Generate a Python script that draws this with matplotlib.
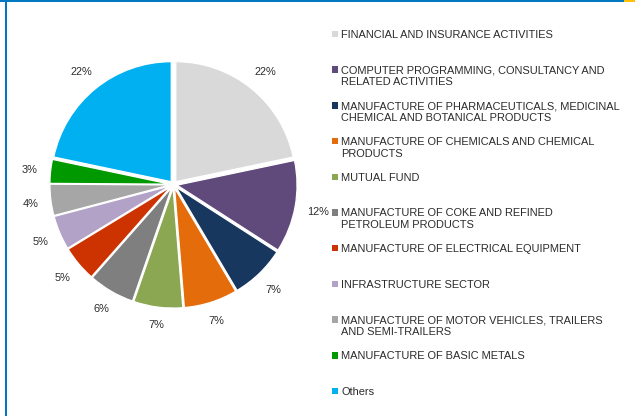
import numpy as np
import matplotlib.pyplot as plt
from matplotlib.patches import Rectangle

plt.rcParams['font.family'] = ['Liberation Sans', 'DejaVu Sans']

# sector shares (%)
sectors = ['FINANCIAL AND INSURANCE ACTIVITIES',
           'COMPUTER PROGRAMMING, CONSULTANCY AND\nRELATED ACTIVITIES',
           'MANUFACTURE OF PHARMACEUTICALS, MEDICINAL\nCHEMICAL AND BOTANICAL PRODUCTS',
           'MANUFACTURE OF CHEMICALS AND CHEMICAL\nPRODUCTS',
           'MUTUAL FUND',
           'MANUFACTURE OF COKE AND REFINED\nPETROLEUM PRODUCTS',
           'MANUFACTURE OF ELECTRICAL EQUIPMENT',
           'INFRASTRUCTURE SECTOR',
           'MANUFACTURE OF MOTOR VEHICLES, TRAILERS\nAND SEMI-TRAILERS',
           'MANUFACTURE OF BASIC METALS',
           'Others']
shares = [21.7, 12.4, 7.4, 7.2, 6.6, 6.2, 4.8, 4.6, 4.2, 3.2, 21.7]
colors = ['#D9D9D9', '#604A7B', '#17375E', '#E46C0A', '#8BA752', '#7F7F7F',
          '#CC3300', '#B3A2C7', '#A6A6A6', '#009900', '#00B0F0']

W, H = 635, 416
fs = 7.9
fig = plt.figure(figsize=(W / 100, H / 100), dpi=100)

# pie axes: centre at (173.5, 184.5) px, 120 px per unit
cx, cy, unit, lim = 173.5, 184.5, 120, 1.4
size = 2 * lim * unit
ax = fig.add_axes([(cx - size / 2) / W, (H - cy - size / 2) / H, size / W, size / H])
wedges, _, pcts = ax.pie(shares, colors=colors, startangle=90, counterclock=False,
                         explode=[0.03] * len(shares), autopct='%.0f%%',
                         pctdistance=1.19,
                         wedgeprops=dict(edgecolor='white', linewidth=0.9),
                         textprops=dict(fontsize=fs, color='#2b2b2b'))
ax.set_xlim(-lim, lim)
ax.set_ylim(-lim, lim)
ax.axis('off')

# place labels "outside end": a fixed gap between the pie edge and the label box
renderer = fig.canvas.get_renderer()
for w, t in zip(wedges, pcts):
    th = np.deg2rad((w.theta1 + w.theta2) / 2)
    a = t.get_window_extent(renderer).width / 2 / unit
    b = 4.0 / unit
    d = 136 / unit + a * abs(np.cos(th)) + b * abs(np.sin(th))
    t.set_position((d * np.cos(th), d * np.sin(th)))
    t.set_va('center_baseline')

# legend drawn by hand
tf = fig.transFigure
for i, (name, c) in enumerate(zip(sectors, colors)):
    yc = 34 + i * 35.7
    fig.patches.append(Rectangle((332 / W, (H - yc - 3.2) / H), 6.4 / W, 6.4 / H,
                                 transform=tf, facecolor=c, edgecolor='none'))
    fig.text(341 / W, (H - yc + 4.0) / H, name, fontsize=fs, color='#2b2b2b',
             va='top', ha='left', linespacing=1.22)

# frame lines
fig.patches.append(Rectangle((0, (H - 2) / H), 624 / W, 2 / H, transform=tf,
                             facecolor='#0078C1', edgecolor='none'))
fig.patches.append(Rectangle((624 / W, (H - 2) / H), 11 / W, 2 / H, transform=tf,
                             facecolor='#FFC000', edgecolor='none'))
fig.patches.append(Rectangle((5 / W, 0), 2 / W, 1, transform=tf,
                             facecolor='#0078C1', edgecolor='none'))

fig.savefig('out.png', dpi=100)
